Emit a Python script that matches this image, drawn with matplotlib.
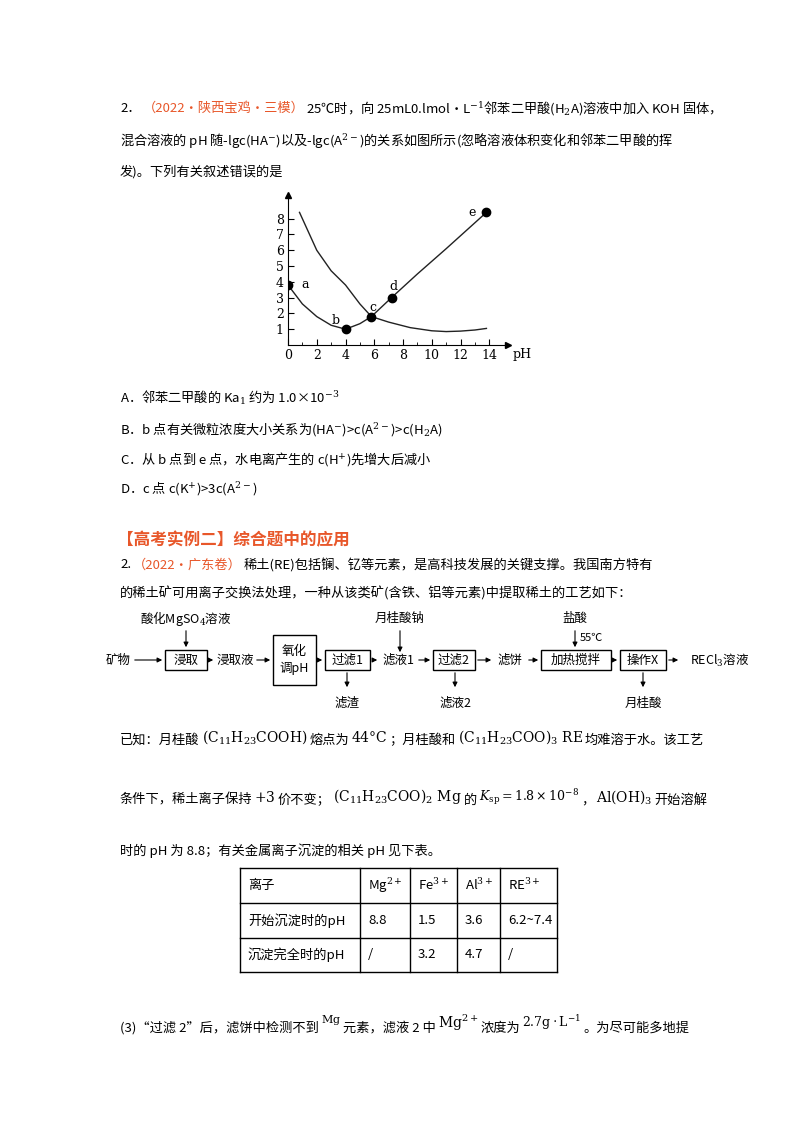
import numpy as np
import matplotlib
matplotlib.use("Agg")
import matplotlib.pyplot as plt
from matplotlib.patches import Rectangle

plt.rcParams['font.family'] = ['Noto Sans CJK SC', 'DejaVu Sans']
plt.rcParams['mathtext.fontset'] = 'dejavuserif'

# ---- chart data ----
ha_x = [0, 1, 2, 3, 4, 5, 5.8, 7.2, 9, 11, 13.8]
ha_y = [3.8, 2.6, 1.8, 1.25, 1.0, 1.35, 1.8, 3.0, 4.5, 6.1, 8.4]
a2_x = [0.8, 1.5, 2, 3, 4, 5, 5.8, 7, 8.5, 10, 11, 12, 13, 13.8]
a2_y = [8.4, 7.0, 6.0, 4.7, 3.8, 2.6, 1.8, 1.45, 1.1, 0.9, 0.85, 0.88, 0.95, 1.05]
pt_x = [0, 4, 5.8, 7.2, 13.8]
pt_y = [3.8, 1.0, 1.8, 3.0, 8.4]
pt_lab = ['a', 'b', 'c', 'd', 'e']
lab_off = [(1.2, 0), (-0.7, 0.55), (0.1, 0.55), (0.1, 0.7), (-1.0, 0)]
x_ticks = [0, 2, 4, 6, 8, 10, 12, 14]
y_ticks = [1, 2, 3, 4, 5, 6, 7, 8]

# ---- table data ----
tbl_head = ['离子', 'Mg$^{2+}$', 'Fe$^{3+}$', 'Al$^{3+}$', 'RE$^{3+}$']
tbl_row1 = ['开始沉淀时的pH', '8.8', '1.5', '3.6', '6.2~7.4']
tbl_row2 = ['沉淀完全时的pH', '/', '3.2', '4.7', '/']

fig = plt.figure(figsize=(8, 11.32), dpi=100)
pg = fig.add_axes([0, 0, 1, 1])
pg.set_xlim(0, 800)
pg.set_ylim(1132, 0)
pg.axis('off')
rend = fig.canvas.get_renderer()

fs = 9.5
red = '#E8572A'
def t(x, y, s, **kw):
    kw.setdefault('fontsize', fs)
    return pg.text(x, y, s, va='center', ha=kw.pop('ha', 'left'), **kw)

def seq(x, y, parts, gap=2):
    # place pieces one after another so they never overlap
    for p in parts:
        s, kw = (p, {}) if isinstance(p, str) else p
        kw = dict(kw)
        dy = kw.pop('dy', 0)
        txt = t(x, y + dy, s, **kw)
        x += txt.get_window_extent(rend).width + gap

# question 1 text
seq(120, 108, ['2．', ('（2022·陕西宝鸡·三模）', dict(color=red)),
               '25℃时，向 25mL0.lmol·L$^{-1}$邻苯二甲酸(H$_2$A)溶液中加入 KOH 固体，'])
t(120, 140, '混合溶液的 pH 随-lgc(HA$^{-}$)以及-lgc(A$^{2-}$)的关系如图所示(忽略溶液体积变化和邻苯二甲酸的挥')
t(120, 172, '发)。下列有关叙述错误的是')

# chart
ax = fig.add_axes([288 / 800, 1 - 345 / 1132, 220 / 800, 150 / 1132])
ax.plot(ha_x, ha_y, color='#222222', lw=1)
ax.plot(a2_x, a2_y, color='#222222', lw=1)
ax.plot(pt_x, pt_y, 'o', color='black', ms=6)
for x, y, l, o in zip(pt_x, pt_y, pt_lab, lab_off):
    ax.text(x + o[0], y + o[1], l, family='DejaVu Serif', fontsize=9, ha='center', va='center')
ax.set_xlim(0, 15.3)
ax.set_ylim(0, 9.5)
ax.spines[['top', 'right']].set_visible(False)
ax.set_xticks(x_ticks)
ax.set_yticks(y_ticks)
ax.set_xticks(np.arange(0, 15, 1), minor=True)
ax.tick_params(direction='in', labelsize=9, length=4, pad=3)
ax.tick_params(which='minor', direction='in', length=2)
for lb in ax.get_xticklabels() + ax.get_yticklabels():
    lb.set_family('DejaVu Serif')
ax.plot(1, 0, '>k', transform=ax.transAxes, clip_on=False, ms=4)
ax.plot(0, 1, '^k', transform=ax.transAxes, clip_on=False, ms=4)
ax.text(1.02, -0.09, 'pH', transform=ax.transAxes, family='DejaVu Serif', fontsize=9)
ax.patch.set_alpha(0)

t(120, 398, 'A．邻苯二甲酸的 Ka$_1$ 约为 1.0×10$^{-3}$')
t(120, 429, 'B．b 点有关微粒浓度大小关系为(HA$^{-}$)>c(A$^{2-}$)>c(H$_2$A)')
t(120, 459, 'C．从 b 点到 e 点，水电离产生的 c(H$^{+}$)先增大后减小')
t(120, 489, 'D．c 点 c(K$^{+}$)>3c(A$^{2-}$)')

t(117, 540, '【高考实例二】综合题中的应用', color=red, fontsize=12, fontweight='bold')
seq(120, 565, ['2.', ('（2022·广东卷）', dict(color=red)),
               '稀土(RE)包括镧、钇等元素，是高科技发展的关键支撑。我国南方特有'])
t(120, 593, '的稀土矿可用离子交换法处理，一种从该类矿(含铁、铝等元素)中提取稀土的工艺如下：')

# flow diagram
fy = 660
fsd = 9
boxes = [(165, 207, '浸取'), (273, 316, '氧化\n调pH'), (325, 370, '过滤1'),
         (433, 475, '过滤2'), (541, 611, '加热搅拌'), (620, 666, '操作X')]
for x0, x1, s in boxes:
    h = 50 if '\n' in s else 20
    pg.add_patch(Rectangle((x0, fy - h / 2), x1 - x0, h, fill=False, lw=1, ec='black'))
    t((x0 + x1) / 2, fy, s, ha='center', fontsize=fsd, linespacing=1.3)
labels = [(118, '矿物'), (235, '浸取液'), (398, '滤液1'), (510, '滤饼'), (720, 'RECl$_3$溶液')]
for x, s in labels:
    t(x, fy, s, ha='center', fontsize=fsd)
segs = [(132, 165), (207, 216), (254, 273), (316, 325), (370, 380), (416, 433),
        (475, 494), (526, 541), (611, 620), (666, 681)]
arr = dict(arrowstyle='-|>', color='black', lw=0.8, mutation_scale=7)
for a, b in segs:
    pg.annotate('', xy=(b, fy), xytext=(a, fy), arrowprops=arr)
for x, s, y0, y1 in [(186, '酸化MgSO$_4$溶液', 628, 650), (400, '月桂酸钠', 628, 655), (575, '盐酸', 628, 650)]:
    t(x, 618, s, ha='center', fontsize=fsd)
    pg.annotate('', xy=(x, y1), xytext=(x, y0), arrowprops=arr)
t(580, 638, '55℃', fontsize=8)
for x, s in [(347, '滤渣'), (455, '滤液2'), (643, '月桂酸')]:
    pg.annotate('', xy=(x, 690), xytext=(x, 670), arrowprops=arr)
    t(x, 703, s, ha='center', fontsize=fsd)

m10 = dict(fontsize=10, dy=-3)
seq(120, 740, ['已知：月桂酸', (r'$\left(\mathrm{C_{11}H_{23}COOH}\right)$', m10), '熔点为',
               (r'$44\degree\mathrm{C}$', m10), '；月桂酸和',
               (r'$\left(\mathrm{C_{11}H_{23}COO}\right)_3\ \mathrm{RE}$', m10), '均难溶于水。该工艺'])
seq(120, 800, ['条件下，稀土离子保持', (r'$+3$', m10), '价不变；',
               (r'$\left(\mathrm{C_{11}H_{23}COO}\right)_2\ \mathrm{Mg}$', m10), '的',
               (r'$K_{\mathrm{sp}}=1.8\times10^{-8}$', dict(fontsize=9, dy=-3)), '，',
               (r'$\mathrm{Al(OH)_3}$', m10), '开始溶解'])
t(120, 851, '时的 pH 为 8.8；有关金属离子沉淀的相关 pH 见下表。')

# table
cols = [240, 360, 410, 457, 500, 557]
rows = [868, 903, 938, 972]
for c in cols:
    pg.plot([c, c], [rows[0], rows[-1]], color='black', lw=1)
for r in rows:
    pg.plot([cols[0], cols[-1]], [r, r], color='black', lw=1)
for i, row in enumerate([tbl_head, tbl_row1, tbl_row2]):
    yc = (rows[i] + rows[i + 1]) / 2
    for j, s in enumerate(row):
        t(cols[j] + 8, yc, s, fontsize=fs)

seq(120, 1028, ['(3)“过滤 2”后，滤饼中检测不到', (r'$\mathrm{Mg}$', dict(fontsize=8, dy=-8)),
                '元素，滤液 2 中', (r'$\mathrm{Mg^{2+}}$', dict(fontsize=10, dy=-5)), '浓度为',
                (r'$2.7\mathrm{g}\cdot\mathrm{L}^{-1}$', dict(fontsize=9, dy=-5)), '。为尽可能多地提'])

fig.savefig('out.png', dpi=100)
